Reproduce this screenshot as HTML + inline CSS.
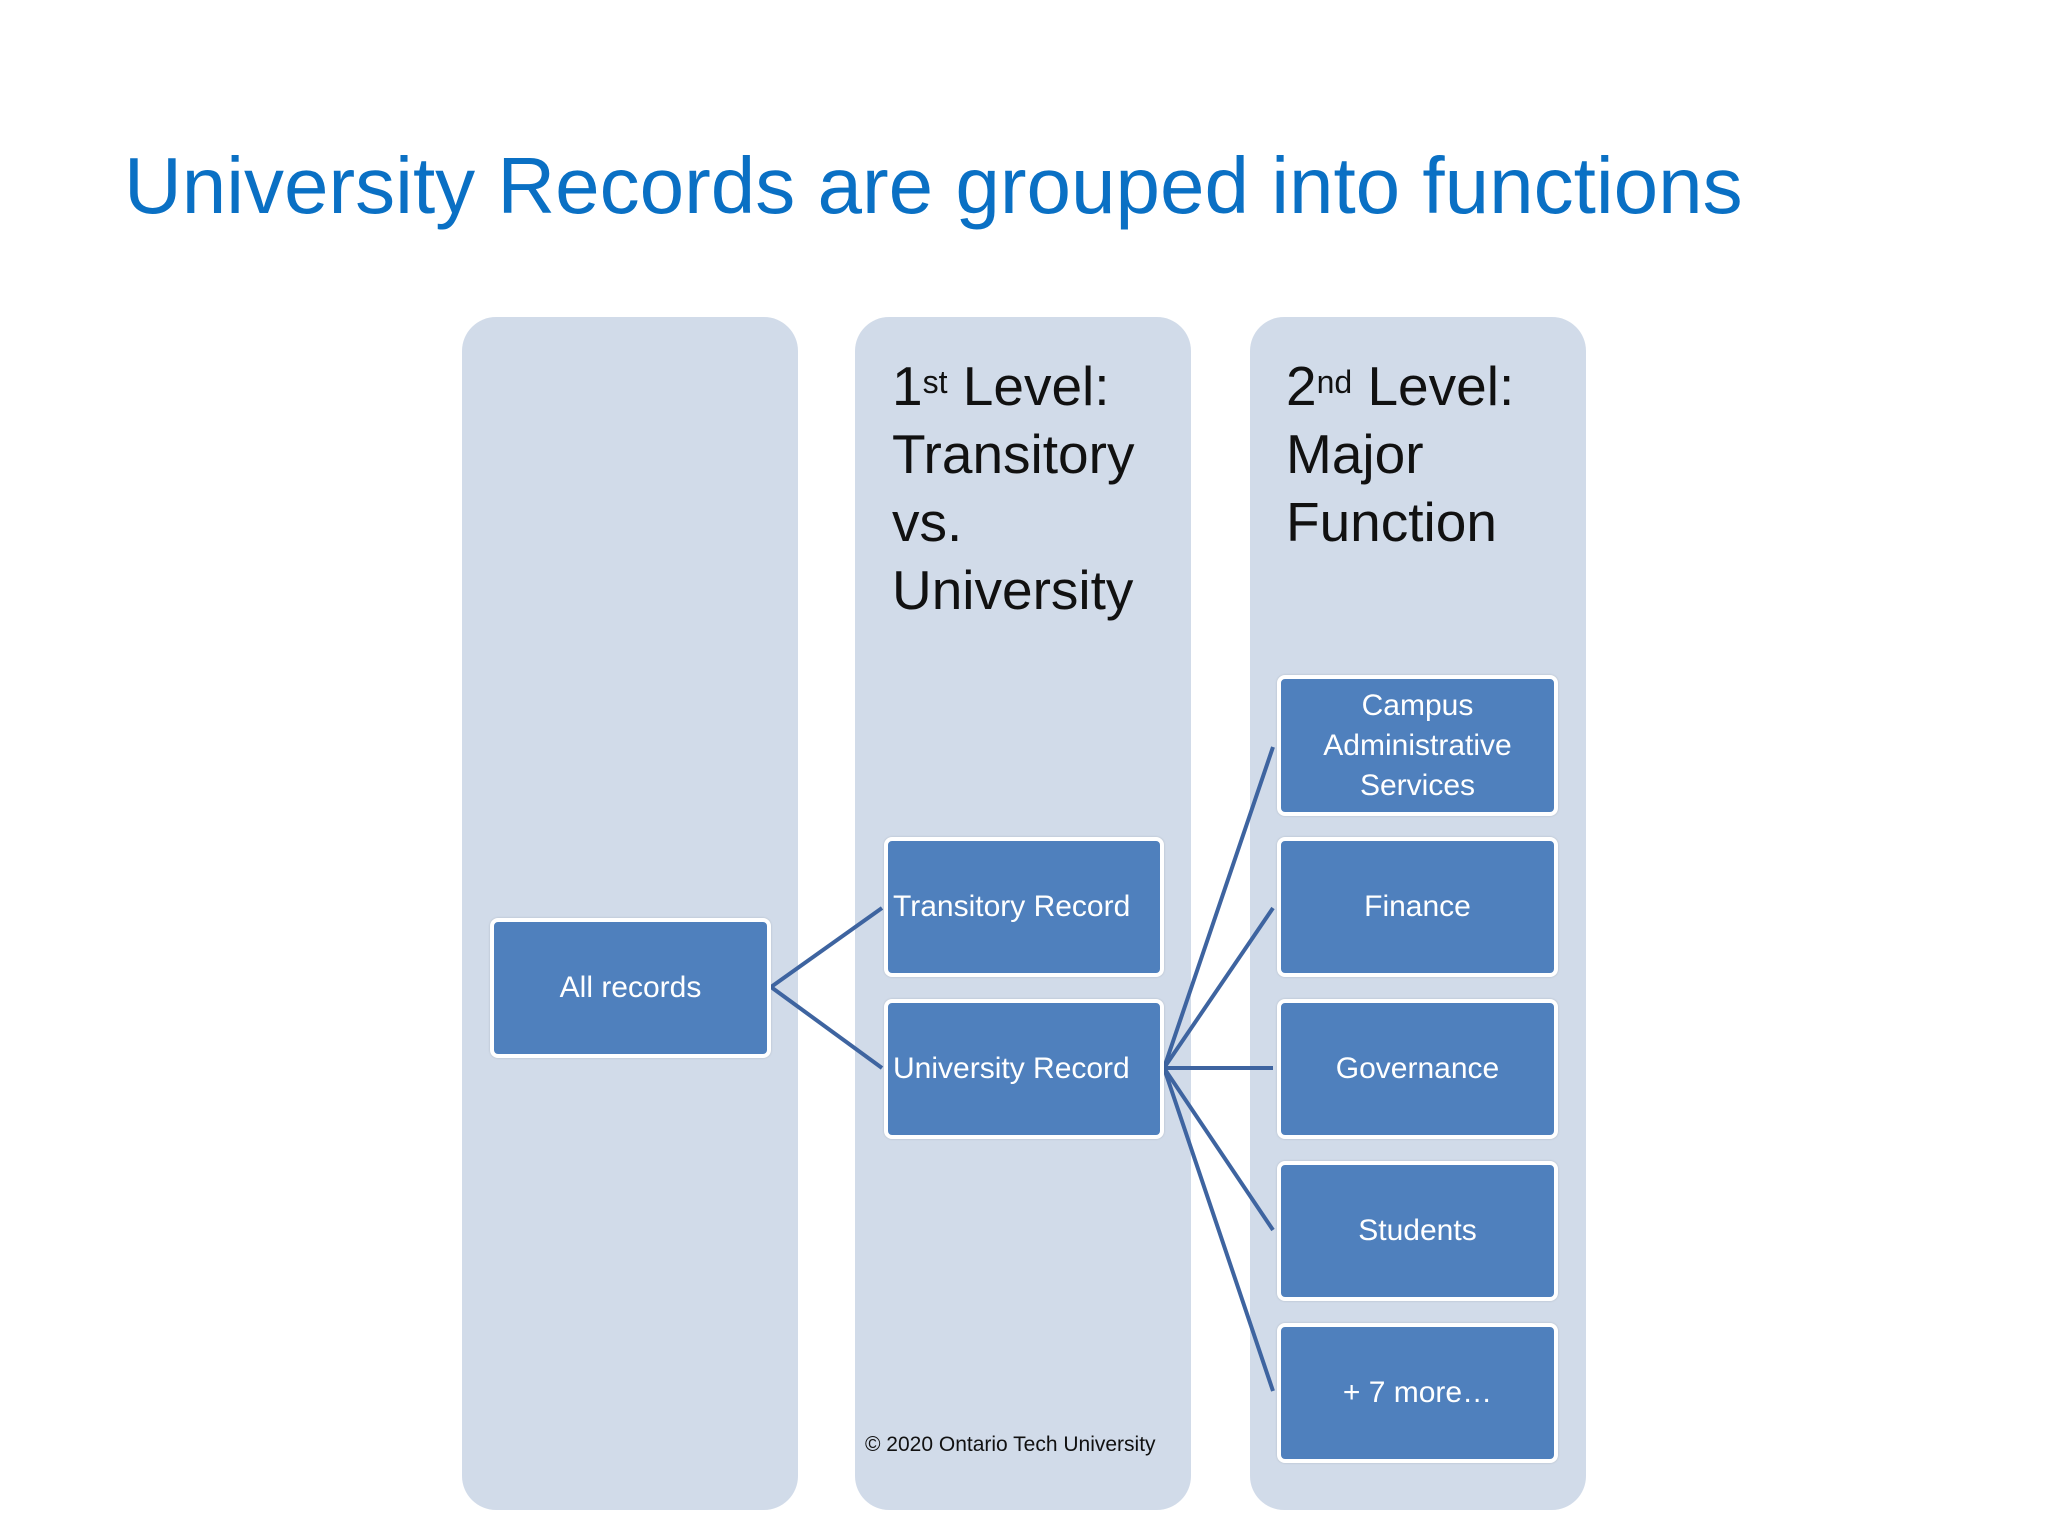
<!DOCTYPE html>
<html><head><meta charset="utf-8"><style>
html,body{margin:0;padding:0;}
body{width:2048px;height:1536px;position:relative;background:#fff;overflow:hidden;font-family:"Liberation Sans",sans-serif;}
.t{position:absolute;left:124px;top:140px;font-size:80px;color:#0a70c4;white-space:nowrap;}
.col{position:absolute;top:317px;width:336px;height:1193px;background:#d1dbe9;border-radius:34px;}
.hd{position:absolute;font-size:55px;line-height:68px;color:#111;}
.hd sup{font-size:32px;vertical-align:top;position:relative;top:-4px;}
.b{position:absolute;box-sizing:border-box;background:#4f80bd;border:4px solid #fff;border-radius:8px;color:#fff;font-size:30px;display:flex;align-items:center;justify-content:center;text-align:center;line-height:40px;box-shadow:0 0 2px rgba(0,0,0,.15);}
.c{position:absolute;left:865px;top:1433px;font-size:21px;color:#111;}
</style></head><body>
<div class="t">University Records are grouped into functions</div>
<div class="col" style="left:462px"></div>
<div class="col" style="left:855px"></div>
<div class="col" style="left:1250px"></div>
<div class="hd" style="left:892px;top:352px">1<sup>st</sup> Level:<br>Transitory<br>vs.<br>University</div>
<div class="hd" style="left:1286px;top:352px">2<sup>nd</sup> Level:<br>Major<br>Function</div>
<svg style="position:absolute;left:0;top:0" width="2048" height="1536">
<g stroke="#3e64a0" stroke-width="4" fill="none">
<line x1="771" y1="987" x2="882" y2="908"/><line x1="771" y1="987" x2="882" y2="1068"/>
<line x1="1164" y1="1068" x2="1273" y2="747"/><line x1="1164" y1="1068" x2="1273" y2="908"/>
<line x1="1164" y1="1068" x2="1273" y2="1068"/><line x1="1164" y1="1068" x2="1273" y2="1230"/>
<line x1="1164" y1="1068" x2="1273" y2="1391"/>
</g></svg>
<div class="b" style="left:490px;top:918px;width:281px;height:140px">All records</div>
<div class="b" style="left:884px;top:837px;width:280px;height:140px;justify-content:flex-start;padding-left:5px">Transitory Record</div>
<div class="b" style="left:884px;top:999px;width:280px;height:140px;justify-content:flex-start;padding-left:5px">University Record</div>
<div class="b" style="left:1277px;top:675px;width:281px;height:141px">Campus<br>Administrative<br>Services</div>
<div class="b" style="left:1277px;top:837px;width:281px;height:140px">Finance</div>
<div class="b" style="left:1277px;top:999px;width:281px;height:140px">Governance</div>
<div class="b" style="left:1277px;top:1161px;width:281px;height:140px">Students</div>
<div class="b" style="left:1277px;top:1323px;width:281px;height:140px">+ 7 more…</div>
<div class="c">© 2020 Ontario Tech University</div>
</body></html>
